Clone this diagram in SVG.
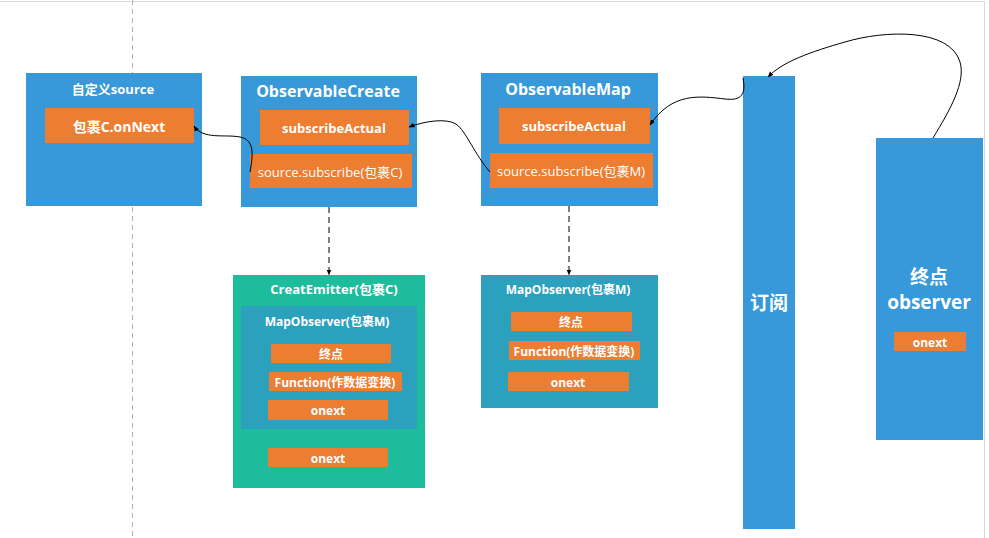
<svg xmlns="http://www.w3.org/2000/svg" width="989" height="538" viewBox="0 0 989 538">
<defs>
<style>
.blue{fill:#3798da}
.or{fill:#ed7d31}
.grn{fill:#1cbc9c}
.teal{fill:#2ba1bd}
text{fill:#fff;font-family:"Open Sans","Noto Sans CJK SC",sans-serif;text-anchor:middle;dominant-baseline:central}
.b{font-weight:bold}
.con{fill:none;stroke:#000;stroke-width:1}
.dash{fill:none;stroke:#000;stroke-width:1;stroke-dasharray:6,4}
</style>
<marker id="ah" viewBox="0 0 10 10" refX="9" refY="5" markerWidth="6" markerHeight="6" orient="auto" markerUnits="userSpaceOnUse">
<path d="M0,1 L10,5 L0,9 z" fill="#000"/>
</marker>
</defs>
<rect x="0" y="0" width="989" height="538" fill="#fff"/>
<line x1="0" y1="1.5" x2="984" y2="1.5" stroke="#d9d9d9" stroke-width="1"/>
<line x1="984.5" y1="1" x2="984.5" y2="538" stroke="#d9d9d9" stroke-width="1"/>
<line x1="132.5" y1="0" x2="132.5" y2="538" stroke="#b0b0b0" stroke-width="1" stroke-dasharray="5,4"/>

<g id="custom-source">
<rect class="blue" x="26" y="73" width="176" height="133"/>
<text class="b" x="113" y="89" font-size="13">自定义source</text>
<rect class="or" x="45" y="108" width="149" height="35"/>
<text class="b" x="119" y="126" font-size="14">包裹C.onNext</text>
</g>

<g id="observable-create">
<rect class="blue" x="241" y="76" width="176" height="131"/>
<text class="b" x="328" y="91" font-size="16">ObservableCreate</text>
<rect class="or" x="260" y="110" width="149" height="35"/>
<text class="b" x="334" y="128" font-size="13">subscribeActual</text>
<rect class="or" x="250" y="154" width="162" height="34"/>
<text x="330" y="172" font-size="13">source.subscribe(包裹C)</text>
</g>

<g id="observable-map">
<rect class="blue" x="481" y="73" width="177" height="133"/>
<text class="b" x="568" y="89" font-size="16">ObservableMap</text>
<rect class="or" x="499" y="108" width="151" height="36"/>
<text class="b" x="574" y="126" font-size="13">subscribeActual</text>
<rect class="or" x="490" y="153" width="163" height="35"/>
<text x="571" y="171" font-size="13">source.subscribe(包裹M)</text>
</g>

<g id="subscribe-bar">
<rect class="blue" x="743" y="76" width="52" height="453"/>
<text class="b" x="769" y="303" font-size="19">订阅</text>
</g>

<g id="end-observer">
<rect class="blue" x="876" y="138" width="107" height="302"/>
<text class="b" x="929" y="277" font-size="19">终点</text>
<text class="b" x="929" y="302" font-size="19">observer</text>
<rect class="or" x="894" y="332" width="72" height="19"/>
<text class="b" x="930" y="342" font-size="12">onext</text>
</g>

<g id="creat-emitter">
<rect class="grn" x="233" y="275" width="192" height="213"/>
<text class="b" x="334" y="289" font-size="13">CreatEmitter(包裹C)</text>
<rect class="teal" x="241" y="306" width="176" height="123"/>
<text class="b" x="327" y="321" font-size="12">MapObserver(包裹M)</text>
<rect class="or" x="271" y="344" width="120" height="19"/>
<text class="b" x="331" y="354" font-size="12">终点</text>
<rect class="or" x="269" y="372" width="133" height="19"/>
<text class="b" x="335" y="382" font-size="12">Function(作数据变换)</text>
<rect class="or" x="268" y="400" width="120" height="20"/>
<text class="b" x="328" y="410" font-size="12">onext</text>
<rect class="or" x="268" y="448" width="120" height="19"/>
<text class="b" x="328" y="458" font-size="12">onext</text>
</g>

<g id="map-observer">
<rect class="teal" x="481" y="275" width="177" height="133"/>
<text class="b" x="568" y="289" font-size="12">MapObserver(包裹M)</text>
<rect class="or" x="511" y="312" width="121" height="19"/>
<text class="b" x="571" y="322" font-size="12">终点</text>
<rect class="or" x="509" y="341" width="131" height="19"/>
<text class="b" x="574" y="351" font-size="12">Function(作数据变换)</text>
<rect class="or" x="508" y="372" width="121" height="19"/>
<text class="b" x="568" y="382" font-size="12">onext</text>
</g>

<g id="connectors">
<path class="con" marker-end="url(#ah)" d="M250,172 C253,155 255,140 240,137 C225,134 203,140 194,126"/>
<path class="con" marker-end="url(#ah)" d="M490,172 C475,155 466,131 456,124 C446,118 425,121 409,127"/>
<path class="con" marker-end="url(#ah)" d="M743,78 C746,94 742,101 725,99 C700,96 672,92 650,125"/>
<path class="con" marker-end="url(#ah)" d="M933,138 C950,110 966,82 960,62 C950,28 885,30 845,42 C810,52 782,62 768,77"/>
<path class="dash" marker-end="url(#ah)" d="M329,207 L329,275"/>
<path class="dash" marker-end="url(#ah)" d="M569,206 L569,275"/>
</g>
</svg>
